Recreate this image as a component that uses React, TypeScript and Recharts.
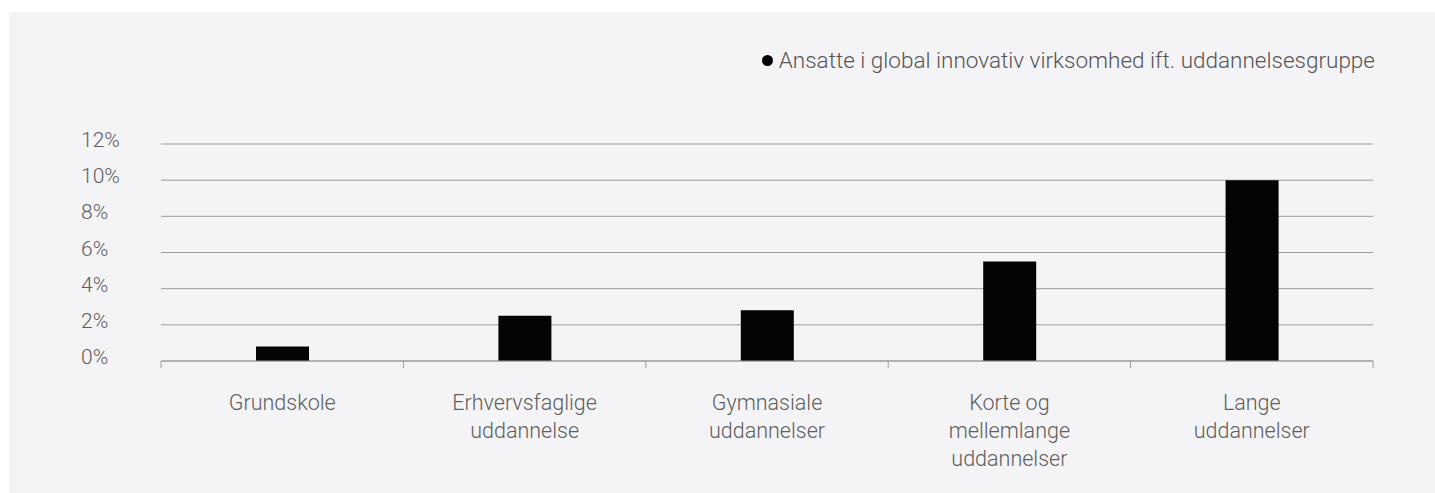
import { BarChart, Bar, XAxis, YAxis, CartesianGrid } from "recharts"

const categories = [
  ["Grundskole"],
  ["Erhvervsfaglige", "uddannelse"],
  ["Gymnasiale", "uddannelser"],
  ["Korte og", "mellemlange", "uddannelser"],
  ["Lange", "uddannelser"],
]
const shares = [0.8, 2.5, 2.8, 5.5, 10.0]
const yTicks = [0, 2, 4, 6, 8, 10, 12]
const seriesName = "Ansatte i global innovativ virksomhed ift. uddannelsesgruppe"

const W = 1435
const H = 493
const M = { top: 144, right: 62, bottom: 0, left: 0 }
const Y_AXIS_W = 161
const X_AXIS_H = 132
const BAND = (W - M.left - M.right - Y_AXIS_W) / categories.length

const FONT = "Roboto, 'Noto Sans', sans-serif"
const GRID = "#9c9c9c"
const TEXT = "#5e5e5e"

const data = categories.map((lines, i) => ({ key: String(i), share: shares[i] }))

function CatTick({ x, y, payload, index }: any) {
  const lines = categories[Number(payload.value)]
  const left = x - BAND / 2
  return (
    <g>
      <line x1={left} x2={left} y1={y} y2={y + 7} stroke={GRID} />
      {index === categories.length - 1 && (
        <line x1={left + BAND} x2={left + BAND} y1={y} y2={y + 7} stroke={GRID} />
      )}
      <text textAnchor="middle" fill={TEXT} fontFamily={FONT} fontWeight={300} fontSize={21.5}>
        {lines.map((l: string, k: number) => (
          <tspan key={k} x={x} y={y + 49 + k * 28}>
            {l}
          </tspan>
        ))}
      </text>
    </g>
  )
}

function PctTick({ y, payload }: any) {
  return (
    <text x={81} y={y + 3} textAnchor="start" fill={TEXT} fontFamily={FONT} fontWeight={300} fontSize={21}>
      {payload.value}%
    </text>
  )
}

export default function App() {
  return (
    <div style={{ position: "absolute", left: 0, top: 0, width: W, height: H, background: "#fff", overflow: "hidden" }}>
      <div style={{ position: "absolute", left: 9, top: 12, right: 0, bottom: 0, background: "#f4f4f6" }} />
      <div
        style={{
          position: "absolute",
          top: 47,
          right: 60,
          display: "flex",
          alignItems: "center",
          fontFamily: FONT,
          fontWeight: 300,
          fontSize: 22.5,
          color: "#555",
          whiteSpace: "nowrap",
        }}
      >
        <span
          style={{ width: 11, height: 11, borderRadius: 6, background: "#000", marginRight: 6, display: "inline-block" }}
        />
        {seriesName}
      </div>
      <div style={{ position: "absolute", left: 0, top: 0 }}>
        <BarChart width={W} height={H} data={data} margin={M}>
          <CartesianGrid horizontal vertical={false} stroke={GRID} />
          <XAxis
            dataKey="key"
            height={X_AXIS_H}
            tick={<CatTick />}
            tickLine={false}
            tickSize={0}
            tickMargin={0}
            axisLine={{ stroke: GRID }}
            interval={0}
          />
          <YAxis
            width={Y_AXIS_W}
            domain={[0, 12]}
            ticks={yTicks}
            tick={<PctTick />}
            tickLine={false}
            axisLine={false}
          />
          <Bar dataKey="share" fill="#040404" barSize={53} isAnimationActive={false} />
        </BarChart>
      </div>
    </div>
  )
}
